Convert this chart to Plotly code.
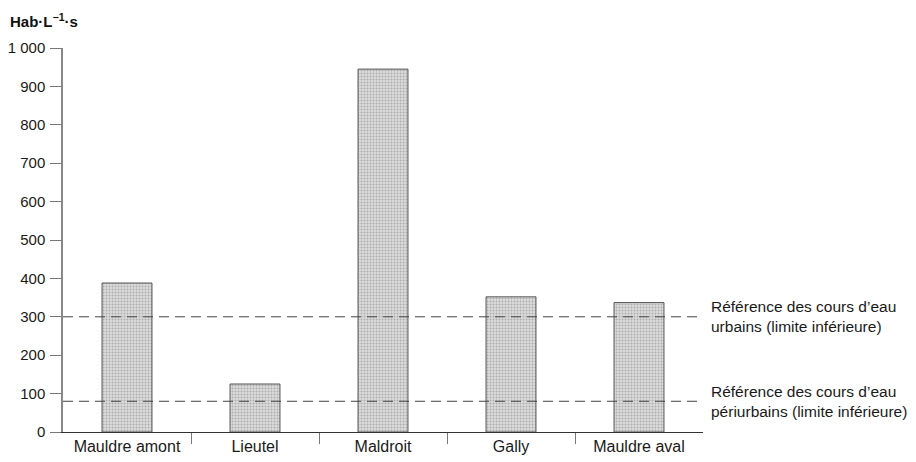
import plotly.graph_objects as go

categories = ["Mauldre amont", "Lieutel", "Maldroit", "Gally", "Mauldre aval"]
values = [388, 125, 945, 352, 337]
ref_values = [300, 80]
ref_labels = [
    "Référence des cours d’eau<br>urbains (limite inférieure)",
    "Référence des cours d’eau<br>périurbains (limite inférieure)",
]
y_ticks = [0, 100, 200, 300, 400, 500, 600, 700, 800, 900, 1000]
y_title = "<b>Hab·L<sup>−1</sup>·s</b>"

FONT = "Liberation Sans, Arial, sans-serif"
positions = list(range(len(categories)))
boundaries = [p + 0.5 for p in positions[:-1]]

fig = go.Figure()
fig.add_trace(go.Bar(
    x=positions, y=values, width=0.39,
    marker=dict(
        color="#d6d6d6",
        line=dict(color="#555555", width=1),
        pattern=dict(shape=".", fgcolor="#7c7c7c", bgcolor="#dcdcdc", size=3, solidity=0.35),
    ),
    hoverinfo="skip",
))

for rv, rl in zip(ref_values, ref_labels):
    fig.add_shape(type="line", xref="x domain", yref="y", x0=0, x1=1, y0=rv, y1=rv,
                  line=dict(color="#444444", width=1, dash="10px,6px"), layer="above")
    fig.add_annotation(xref="x domain", yref="y", x=1.01, y=rv, text=rl, showarrow=False,
                       xanchor="left", yanchor="middle", align="left",
                       font=dict(family=FONT, size=15.5, color="#1a1a1a"))

fig.add_annotation(xref="paper", yref="paper", x=-0.086, y=1.042, text=y_title, showarrow=False,
                   xanchor="left", yanchor="bottom", font=dict(family=FONT, size=15, color="#111"))

fig.update_layout(
    width=916, height=462,
    margin=dict(l=55, r=221, t=40, b=38),
    paper_bgcolor="white", plot_bgcolor="white",
    showlegend=False,
    separators=", ",
    font=dict(family=FONT, size=17, color="#1a1a1a"),
    xaxis=dict(
        range=[-0.5, len(categories) - 0.5],
        tickmode="array", tickvals=positions, ticktext=categories,
        ticks="", showgrid=False, zeroline=False, automargin=False,
        tickfont=dict(size=16),
        showline=True, linecolor="#333333", linewidth=1,
        minor=dict(tickmode="array", tickvals=boundaries, ticks="outside",
                   ticklen=11, tickcolor="#777777", tickwidth=1, showgrid=False),
        fixedrange=True,
    ),
    yaxis=dict(
        range=[0, 1000], tickmode="array", tickvals=y_ticks,
        separatethousands=True, tickformat=",d",
        ticks="outside", ticklen=11, tickcolor="#777777", tickwidth=1,
        ticklabelstandoff=2, tickfont=dict(size=15), automargin=False,
        showgrid=False, zeroline=False,
        showline=True, linecolor="#888888", linewidth=1.5,
        fixedrange=True,
    ),
)

fig.write_html("out.html")
